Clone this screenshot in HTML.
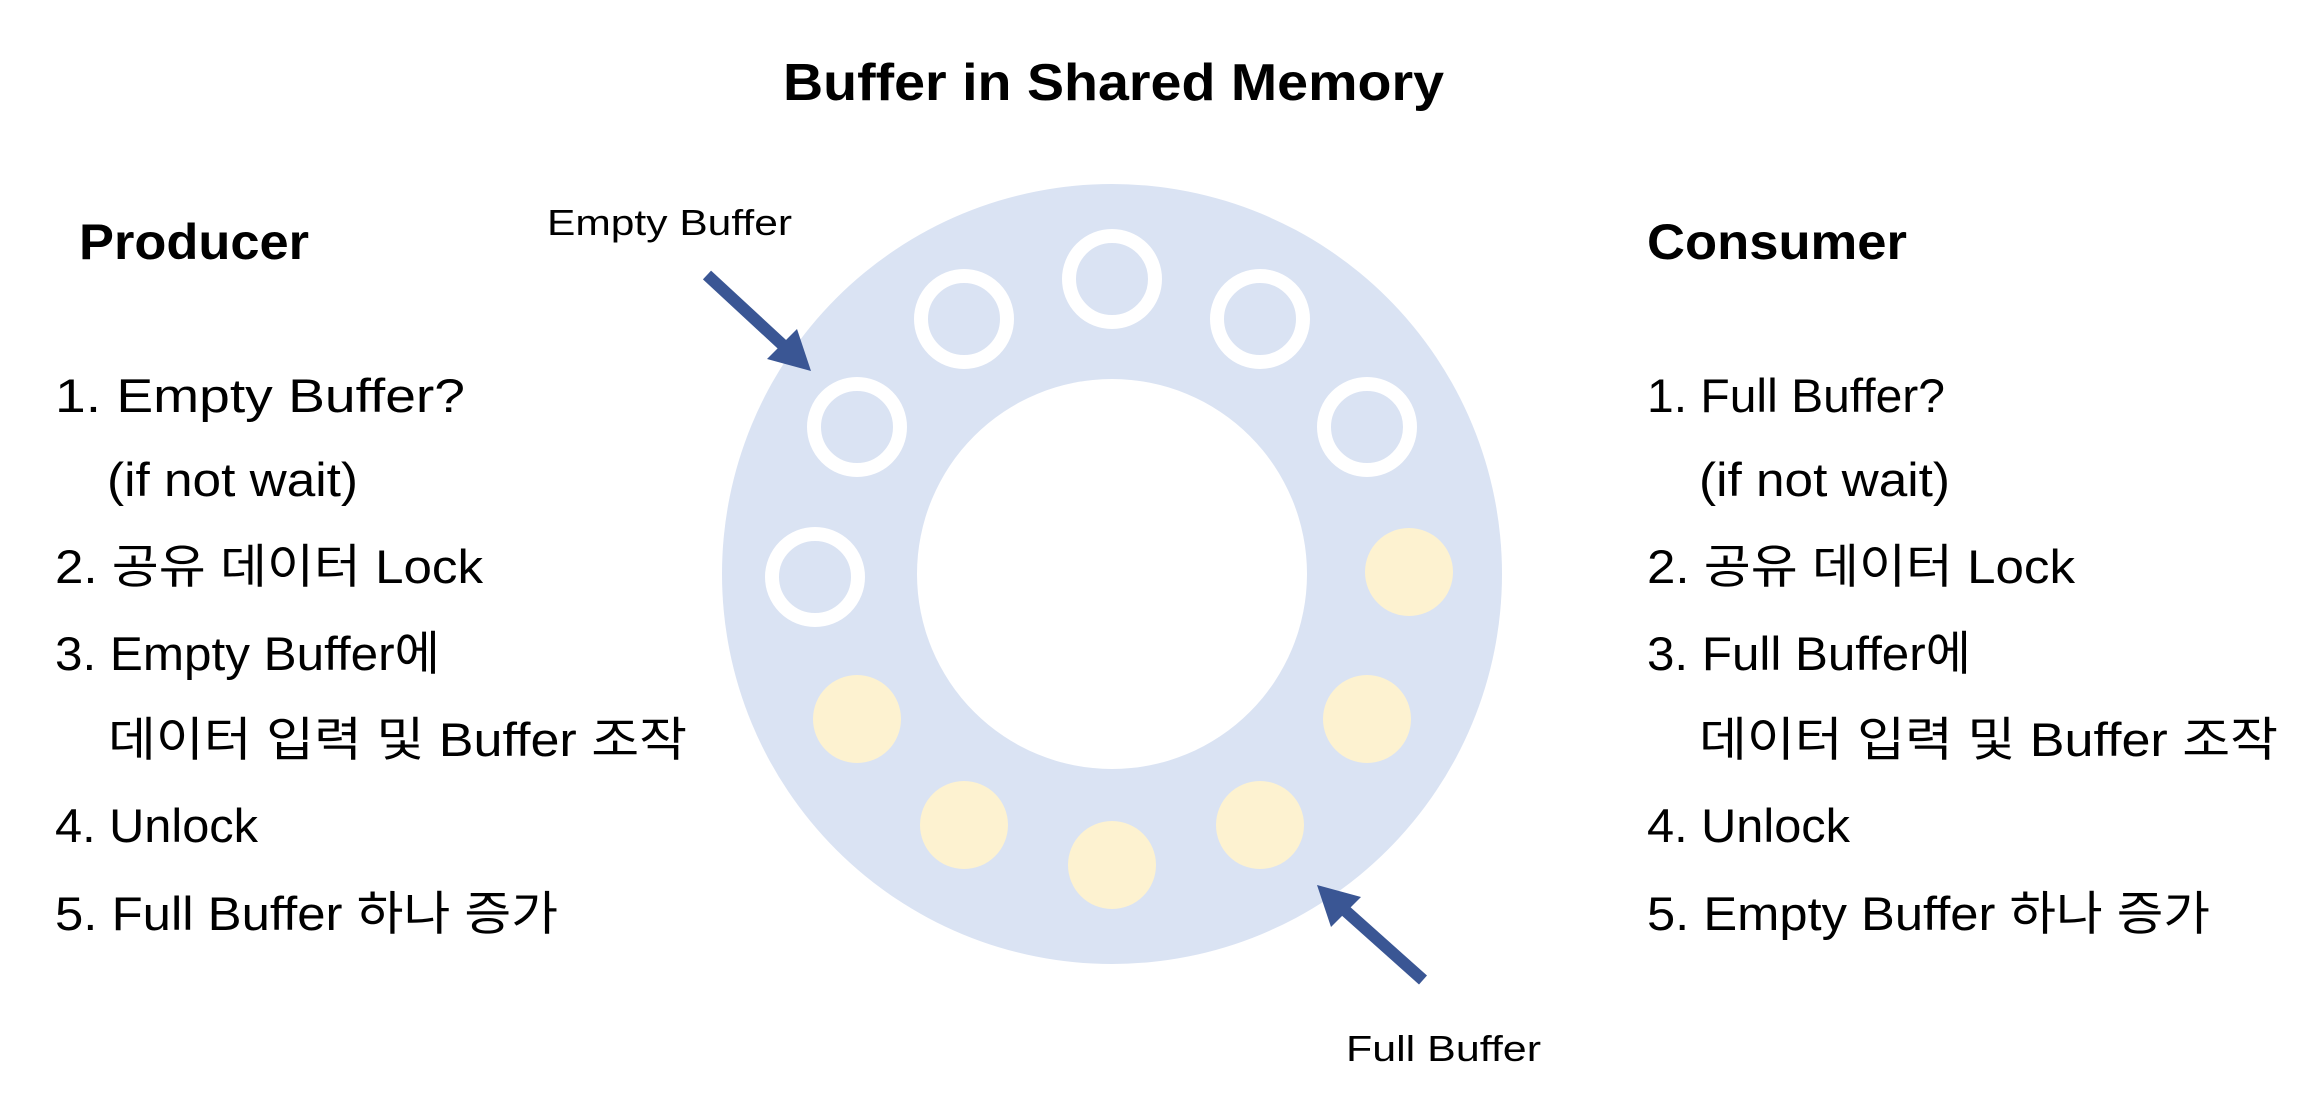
<!DOCTYPE html>
<html><head><meta charset="utf-8"><style>
html,body{margin:0;padding:0;background:#fff;width:2316px;height:1110px;overflow:hidden}
svg{display:block}
text{font-family:"Liberation Sans","Noto Sans CJK KR",sans-serif;fill:#000}
.b{font-weight:bold}
</style></head><body>
<svg width="2316" height="1110" viewBox="0 0 2316 1110" xmlns="http://www.w3.org/2000/svg">
<g transform="translate(-3,-3)">
<circle cx="1115" cy="577" r="390" fill="#dae3f3"/>
<circle cx="1115" cy="577" r="195" fill="#fff"/>
<g fill="none" stroke="#fff" stroke-width="14">
<circle cx="1115" cy="282" r="43"/>
<circle cx="967" cy="322" r="43"/>
<circle cx="1263" cy="322" r="43"/>
<circle cx="860" cy="430" r="43"/>
<circle cx="1370" cy="430" r="43"/>
<circle cx="818" cy="580" r="43"/>
</g>
<g fill="#fdf2d0">
<circle cx="1412" cy="575" r="44"/>
<circle cx="1370" cy="722" r="44"/>
<circle cx="860" cy="722" r="44"/>
<circle cx="967" cy="828" r="44"/>
<circle cx="1263" cy="828" r="44"/>
<circle cx="1115" cy="868" r="44"/>
</g>
<g fill="#3a5694">
<line x1="710" y1="278" x2="790" y2="352" stroke="#3a5694" stroke-width="12"/>
<polygon points="814,374 770,362 800,332"/>
<line x1="1426" y1="983" x2="1342" y2="908" stroke="#3a5694" stroke-width="12"/>
<polygon points="1320,888 1364,900 1334,930"/>
</g>
</g>
<text class="b" x="783" y="100" font-size="52" textLength="661" lengthAdjust="spacingAndGlyphs">Buffer in Shared Memory</text>
<text class="b" x="79" y="259" font-size="50" textLength="230" lengthAdjust="spacingAndGlyphs">Producer</text>
<text class="b" x="1647" y="259" font-size="50" textLength="260" lengthAdjust="spacingAndGlyphs">Consumer</text>
<text x="547" y="235" font-size="36" textLength="245" lengthAdjust="spacingAndGlyphs">Empty Buffer</text>
<text x="1346" y="1061" font-size="36" textLength="195" lengthAdjust="spacingAndGlyphs">Full Buffer</text>
<g font-size="47">
<text x="55" y="412" textLength="410" lengthAdjust="spacingAndGlyphs">1. Empty Buffer?</text>
<text x="107" y="496" textLength="251" lengthAdjust="spacingAndGlyphs">(if not wait)</text>
<text x="55" y="583" textLength="428" lengthAdjust="spacingAndGlyphs">2. 공유 데이터 Lock</text>
<text x="55" y="670" textLength="385" lengthAdjust="spacingAndGlyphs">3. Empty Buffer에</text>
<text x="108" y="756" textLength="579" lengthAdjust="spacingAndGlyphs">데이터 입력 및 Buffer 조작</text>
<text x="55" y="842" textLength="203" lengthAdjust="spacingAndGlyphs">4. Unlock</text>
<text x="55" y="930" textLength="503" lengthAdjust="spacingAndGlyphs">5. Full Buffer 하나 증가</text>
<text x="1647" y="412" textLength="298" lengthAdjust="spacingAndGlyphs">1. Full Buffer?</text>
<text x="1699" y="496" textLength="251" lengthAdjust="spacingAndGlyphs">(if not wait)</text>
<text x="1647" y="583" textLength="428" lengthAdjust="spacingAndGlyphs">2. 공유 데이터 Lock</text>
<text x="1647" y="670" textLength="324" lengthAdjust="spacingAndGlyphs">3. Full Buffer에</text>
<text x="1699" y="756" textLength="579" lengthAdjust="spacingAndGlyphs">데이터 입력 및 Buffer 조작</text>
<text x="1647" y="842" textLength="203" lengthAdjust="spacingAndGlyphs">4. Unlock</text>
<text x="1647" y="930" textLength="563" lengthAdjust="spacingAndGlyphs">5. Empty Buffer 하나 증가</text>
</g>
</svg>
</body></html>
